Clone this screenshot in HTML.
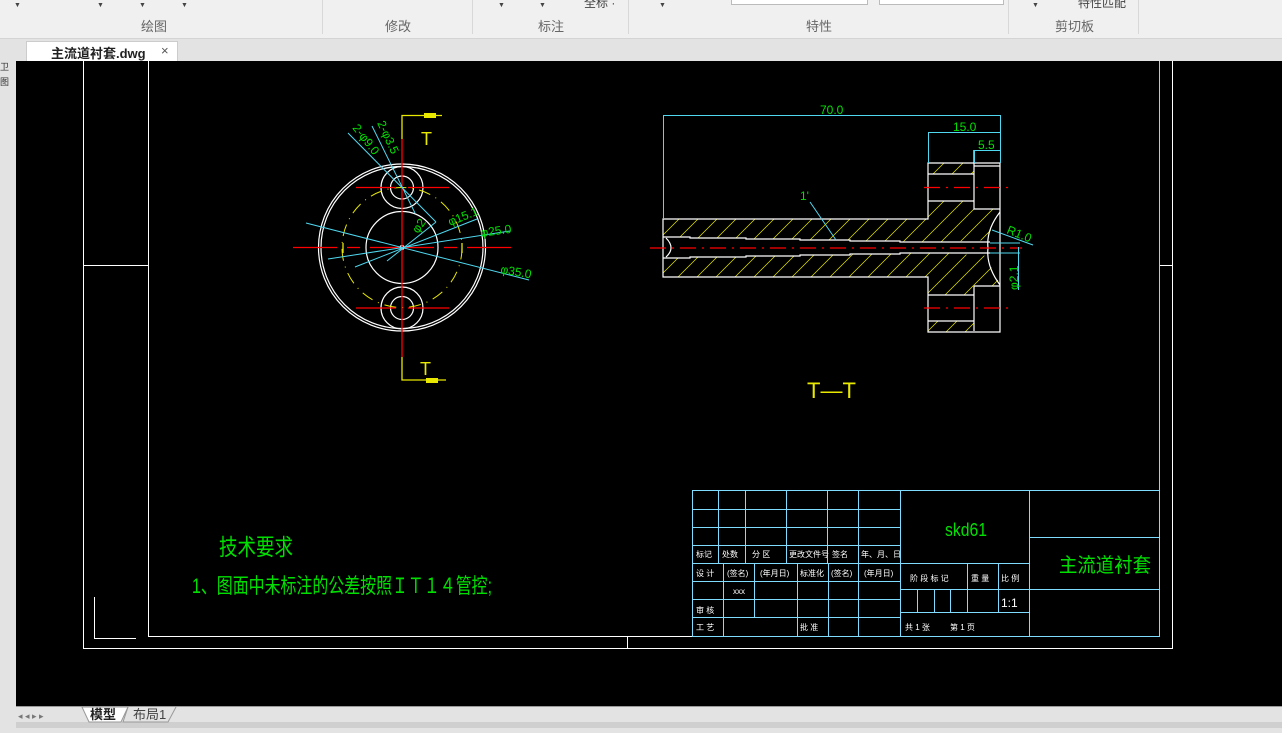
<!DOCTYPE html>
<html><head><meta charset="utf-8">
<style>
html,body{margin:0;padding:0;width:1282px;height:733px;overflow:hidden;background:#e3e3e3;font-family:"Liberation Sans","Noto Sans CJK SC",sans-serif;}
.rib{position:absolute;left:0;top:0;width:1282px;height:38px;background:#f0f0f0;border-bottom:1px solid #d4d4d4;}
.gl{position:absolute;top:16px;font-size:13px;color:#666;}
.sep{position:absolute;top:0;width:1px;height:34px;background:#d8d8d8;}
.arr{position:absolute;top:2px;font-size:7px;color:#444;}
.tabbar{position:absolute;left:0;top:39px;width:1282px;height:22px;background:#e3e3e3;}
.tab{position:absolute;left:26px;top:2px;width:150px;height:20px;background:#fff;border:1px solid #ccc;border-bottom:none;font-size:13px;font-weight:bold;color:#222;}
svg{position:absolute;left:0;top:0;}
</style></head><body>
<div class="rib">
 <span class="arr" style="left:14px">▼</span><span class="arr" style="left:97px">▼</span><span class="arr" style="left:139px">▼</span><span class="arr" style="left:181px">▼</span>
 <span class="arr" style="left:498px">▼</span><span class="arr" style="left:539px">▼</span><span class="arr" style="left:659px">▼</span><span class="arr" style="left:1032px">▼</span>
 <div style="position:absolute;left:731px;top:0;width:135px;height:4px;border:1px solid #bbb;border-top:none;background:#fff"></div>
 <div style="position:absolute;left:879px;top:0;width:123px;height:4px;border:1px solid #bbb;border-top:none;background:#fff"></div>
 <span style="position:absolute;left:584px;top:-6px;font-size:12px;color:#444">全标 ·</span>
 <span style="position:absolute;left:1078px;top:-6px;font-size:12px;color:#444">特性匹配</span>
 <span class="gl" style="left:141px">绘图</span><span class="gl" style="left:385px">修改</span><span class="gl" style="left:538px">标注</span><span class="gl" style="left:806px">特性</span><span class="gl" style="left:1055px">剪切板</span>
 <div class="sep" style="left:322px"></div><div class="sep" style="left:472px"></div><div class="sep" style="left:628px"></div><div class="sep" style="left:1008px"></div><div class="sep" style="left:1138px"></div>
</div>
<div class="tabbar"><div class="tab"><span style="position:absolute;left:24px;top:1px">主流道衬套.dwg</span><span style="position:absolute;left:134px;top:1px;font-weight:normal;color:#555">×</span></div></div>
<svg width="1282" height="733" viewBox="0 0 1282 733" style="top:0">
<defs>
<pattern id="h" width="19" height="19" patternUnits="userSpaceOnUse" patternTransform="skewX(-45)"><line x1="5" y1="0" x2="5" y2="19" stroke="#e8e800" stroke-width="1"/></pattern>
</defs>
<rect x="16" y="61" width="1266" height="645" fill="#000"/>
<rect x="0" y="61" width="16" height="645" fill="#e3e3e3"/>
<text x="0" y="70" font-size="9" fill="#333">卫</text><text x="0" y="85" font-size="9" fill="#333">图</text>
<g fill="none" stroke="#fff" stroke-width="1">
<path d="M83.5 61V648.5H1172.5V61"/>
<path d="M148.5 61V636.5H692"/>
<path d="M83 265.5H148M1160 265.5H1173M627.5 636V648"/>
<path d="M94.5 597V638.5H136"/>
</g>
<path d="M1159.5 61V490" stroke="#7fdcff"/>
<g fill="none" stroke="#fff" stroke-width="1.2">
<circle cx="402" cy="247.5" r="83.5"/><circle cx="402" cy="247.5" r="81"/>
<circle cx="402" cy="247.5" r="36"/>
<circle cx="402" cy="187.5" r="21"/><circle cx="402" cy="187.5" r="11.5"/>
<circle cx="402" cy="308" r="21"/><circle cx="402" cy="308" r="11.5"/>
<circle cx="402" cy="247.5" r="2"/>
</g>
<circle cx="402" cy="247.5" r="60" fill="none" stroke="#e8e800" stroke-dasharray="12 6 1 6"/>
<g stroke="#f00" stroke-width="1.3">
<path d="M293 247.5H337M347 247.5H360M370 247.5H434M444 247.5H457M467 247.5H511"/>
<path d="M402 139V357"/>
<path d="M356 187.5H396M408 187.5H449M356 308H396M408 308H449"/>
</g>
<g stroke="#e8e800" fill="none" stroke-width="1.3">
<path d="M402 139V115.5H442M402 357V380H446"/><path d="M343 243V253M462 243V253"/>
</g>
<path d="M424 113h12v5h-12z M426 378h12v5h-12z" fill="#e8e800"/>
<g fill="#e8e800" font-family="Liberation Sans,sans-serif" font-size="18"><text x="421" y="145">T</text><text x="420" y="375">T</text></g>
<g stroke="#4fd8f0" stroke-width="1" fill="none">
<path d="M348 133L436 222M372 126L415 213M355 267L477 219M328 259L510 231M306 223L529 280M387 261L436 222"/>
</g>
<g fill="#00e000" font-size="12" font-family="Liberation Sans,sans-serif">
<text transform="translate(352,128) rotate(52)">2-φ9.0</text>
<text transform="translate(377,123) rotate(65)">2-φ3.5</text>
<text transform="translate(418,234) rotate(-55)">φ2</text>
<text transform="translate(450,226) rotate(-22)">φ15.1</text>
<text transform="translate(481,237) rotate(-8)">φ25.0</text>
<text transform="translate(500,273) rotate(10)">φ35.0</text>
</g>
<g fill="url(#h)">
<path d="M663 219H928V201H974V209H1000V213Q988 230 990 240L940 242L663 237Z"/>
<path d="M663 277H928V295H974V286H1000V283Q988 266 990 256L940 253L663 258Z"/>
<path d="M928 163H974V174H928Z"/><path d="M928 321H974V332H928Z"/>
</g>
<g fill="none" stroke="#fff" stroke-width="1.2">
<path d="M663 219H928V163H1000V332H928V277H663Z"/>
<path d="M663 237H690V238H746V239H800V240H850V241H900V242H990"/>
<path d="M663 258H690V257H746V256H800V255H850V254H900V253H990"/>
<path d="M928 174H974M928 201H974M974 150V209H1000M974 166H1000"/>
<path d="M928 295H974M928 321H974M974 286V331M974 286H1000"/>
<path d="M1000 212Q986 230 988 248Q986 266 1000 285"/>
<path d="M666 238Q676 248 666 257"/>
</g>
<g stroke="#f00" stroke-width="1.3" stroke-dasharray="16 6 2 6">
<path d="M650 248H1022"/><path d="M924 187.5H1008M924 308H1008"/>
</g>
<g stroke="#4fd8f0" fill="none" stroke-width="1">
<path d="M663 115.5H1000.5M663.5 115V219M1000.5 115V163M928.5 132V163M928 132.5H1000M974.5 150V163M974 150.5H1000"/>
<path d="M810 202L836 240M992 230L1033 245M1018.5 247V290M990 243H1020M990 253H1020"/>
</g>
<g fill="#00e000" font-size="12" font-family="Liberation Sans,sans-serif">
<text x="820" y="114">70.0</text><text x="953" y="131">15.0</text><text x="978" y="149">5.5</text>
<text x="800" y="200">1'</text>
<text transform="translate(1006,233) rotate(22)">R1.0</text>
<text transform="translate(1018,290) rotate(-90)">φ2.1</text>
</g>
<text x="807" y="398" fill="#e8e800" font-size="22" font-family="Liberation Sans,'Noto Sans CJK SC',sans-serif">T—T</text>
<g fill="#00e000" font-family="Liberation Sans,'Noto Sans CJK SC',sans-serif">
<text x="219" y="555" font-size="23" textLength="74" lengthAdjust="spacingAndGlyphs">技术要求</text>
<text x="192" y="593" font-size="21" textLength="300" lengthAdjust="spacingAndGlyphs">1、图面中未标注的公差按照ＩＴ１４管控;</text>
</g>
<g stroke="#7fdcff" fill="none" stroke-width="1">
<rect x="692.5" y="490.5" width="467" height="146"/>
<path d="M718.5 490V563M745.5 490V563M786.5 490V563M827.5 490V563M858.5 490V636M900.5 490V636M1029.5 490V636"/>
<path d="M723.5 563V636M754.5 563V617M797.5 563V636M828.5 563V636"/>
<path d="M692 509.5H900M692 527.5H900M692 545.5H900M692 563.5H1029M692 581.5H900M692 599.5H900M692 617.5H900"/>
<path d="M900 589.5H1029M900 612.5H1029M967.5 563V612M998.5 563V612M917.5 589V612M934.5 589V612M950.5 589V612"/>
<path d="M1029 537.5H1159M1029 589.5H1159"/>
</g>
<g fill="#fff" font-size="8" font-family="Liberation Sans,'Noto Sans CJK SC',sans-serif">
<text x="696" y="557">标记</text><text x="722" y="557">处数</text><text x="752" y="557">分 区</text><text x="789" y="557">更改文件号</text><text x="832" y="557">签名</text><text x="861" y="557">年、月、日</text>
<text x="696" y="576">设 计</text><text x="727" y="576">(签名)</text><text x="760" y="576">(年月日)</text><text x="800" y="576">标准化</text><text x="831" y="576">(签名)</text><text x="864" y="576">(年月日)</text>
<text x="733" y="594">xxx</text>
<text x="696" y="613">审 核</text><text x="696" y="630">工 艺</text><text x="800" y="630">批 准</text>
<text x="910" y="581">阶 段 标 记</text><text x="971" y="581">重 量</text><text x="1001" y="581">比 例</text>
<text x="905" y="630">共 1 张</text><text x="950" y="630">第 1 页</text>
</g>
<text x="1001" y="607" fill="#fff" font-size="12" font-family="Liberation Sans,sans-serif">1:1</text>
<text x="945" y="536" fill="#00e000" font-size="18" font-family="Liberation Sans,sans-serif" textLength="42" lengthAdjust="spacingAndGlyphs">skd61</text>
<text x="1059" y="572" fill="#00e000" font-size="20" font-family="Liberation Sans,'Noto Sans CJK SC',sans-serif" textLength="92" lengthAdjust="spacingAndGlyphs">主流道衬套</text>
<rect x="16" y="706" width="1266" height="16" fill="#e3e3e3"/>
<line x1="16" y1="706.5" x2="1282" y2="706.5" stroke="#999"/>
<rect x="16" y="722" width="1266" height="6" fill="#cfcfcf"/>
<g fill="#777" font-size="9"><text x="18" y="719">◂ ◂ ▸ ▸</text></g>
<path d="M82 707L89 722H121L128 707Z" fill="#fff" stroke="#999"/>
<text x="90" y="719" font-size="13" font-weight="bold" fill="#222" font-family="'Noto Sans CJK SC',sans-serif">模型</text>
<path d="M128 707L123 722H168L176 707" fill="none" stroke="#999"/>
<text x="133" y="719" font-size="13" fill="#444" font-family="Liberation Sans,'Noto Sans CJK SC',sans-serif">布局1</text>
</svg>
</body></html>
